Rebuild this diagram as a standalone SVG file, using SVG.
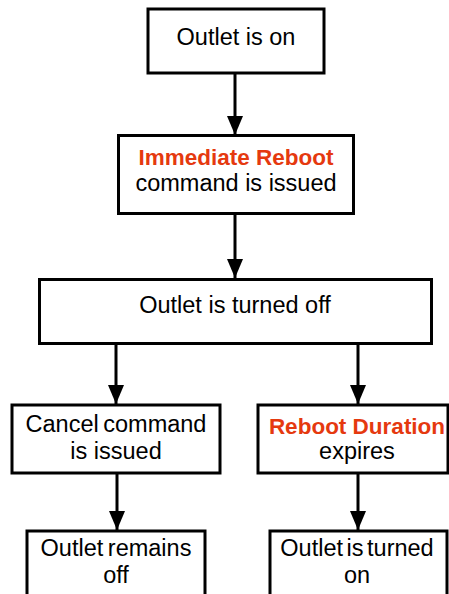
<svg xmlns="http://www.w3.org/2000/svg" width="449" height="594" viewBox="0 0 449 594">
<style>
.box{fill:#fff;stroke:#000;stroke-width:3}
.t{font-family:"Liberation Sans",Arial,sans-serif;font-size:23.5px;fill:#000;text-anchor:middle}
.h{font-weight:bold;fill:#e5390f;font-size:22.5px}
.c{stroke:#000;stroke-width:3;fill:none}
</style>
<defs>
<marker id="ah" markerUnits="userSpaceOnUse" markerWidth="20" markerHeight="16" refX="19" refY="8" orient="auto">
<path d="M0,0 L19,8 L0,16 Z" fill="#000"/>
</marker>
</defs>
<rect width="449" height="594" fill="#fff"/>
<g id="connectors">
<line class="c" x1="235" y1="72" x2="235" y2="135" marker-end="url(#ah)"/>
<line class="c" x1="235" y1="214" x2="235" y2="278" marker-end="url(#ah)"/>
<line class="c" x1="116" y1="343" x2="116" y2="404" marker-end="url(#ah)"/>
<line class="c" x1="358" y1="343" x2="358" y2="404" marker-end="url(#ah)"/>
<line class="c" x1="117" y1="470" x2="117" y2="530" marker-end="url(#ah)"/>
<line class="c" x1="358" y1="473" x2="358" y2="530" marker-end="url(#ah)"/>
</g>
<g id="n1"><rect class="box" x="148" y="9" width="176" height="64"/><text class="t" x="236" y="45">Outlet is on</text></g>
<g id="n2"><rect class="box" x="118.5" y="135.5" width="235" height="78"/><text class="t h" x="236" y="165">Immediate Reboot</text><text class="t" x="236" y="191">command is issued</text></g>
<g id="n3"><rect class="box" x="39.5" y="279.5" width="392" height="64"/><text class="t" x="235" y="313">Outlet is turned off</text></g>
<g id="n4"><rect class="box" x="12" y="405" width="208" height="68"/><text class="t" x="116" y="432" word-spacing="-2">Cancel command</text><text class="t" x="116" y="459">is issued</text></g>
<g id="n5"><rect class="box" x="258" y="405" width="190" height="68"/><text class="t h" x="357" y="434">Reboot Duration</text><text class="t" x="357" y="459">expires</text></g>
<g id="n6"><rect class="box" x="27" y="531" width="178" height="80"/><text class="t" x="116" y="556" word-spacing="-2">Outlet remains</text><text class="t" x="116" y="583">off</text></g>
<g id="n7"><rect class="box" x="270" y="531" width="177" height="80"/><text class="t" x="357" y="556" word-spacing="-3">Outlet is turned</text><text class="t" x="357" y="583">on</text></g>
</svg>
